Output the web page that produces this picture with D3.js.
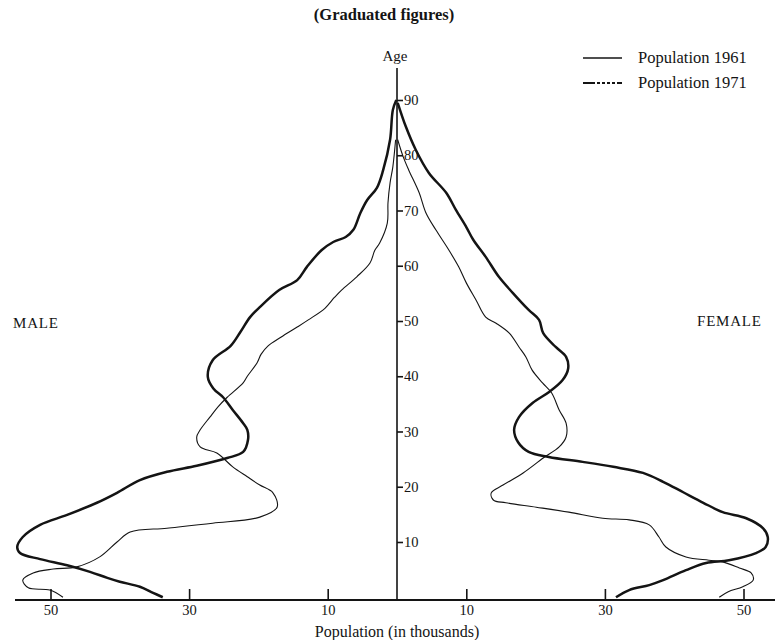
<!DOCTYPE html>
<html>
<head>
<meta charset="utf-8">
<script src="https://cdn.jsdelivr.net/npm/d3@7/dist/d3.min.js"></script>
<style>
  html, body { margin: 0; padding: 0; background: #ffffff; }
  svg { display: block; }
  text { font-family: "Liberation Serif", "DejaVu Serif", serif; fill: #141414; }
</style>
</head>
<body>
<svg id="chart" width="775" height="640"></svg>
<script>
// ---- Data (ages in years, population in thousands) ----
const ageTicks = [10, 20, 30, 40, 50, 60, 70, 80, 90];
const popTicks = [10, 30, 50];
const seriesNames = ["Population 1961", "Population 1971"];

const male1961 = [[0,48.2],[1.3,50.1],[1.7,53.2],[3.1,54.0],[4.4,52.5],[5.1,49.6],[5.5,46.2],[7.3,42.9],[10.0,40.4],[11.8,38.5],[12.5,33.2],[13.4,26.6],[14.5,19.8],[16.3,17.3],[18.9,17.9],[20.3,19.8],[21.8,21.6],[23.6,23.7],[26.1,26.0],[27.2,28.4],[29.0,28.9],[30.3,28.4],[32.6,27.0],[34.5,25.8],[36.2,24.5],[38.8,22.2],[40.0,21.6],[42.4,20.2],[44.0,19.6],[45.5,18.6],[47.1,16.7],[48.9,14.4],[50.2,12.8],[52.3,10.4],[54.3,9.0],[55.6,8.0],[58.0,5.8],[60.5,3.9],[62.8,3.2],[64.1,2.5],[67.7,1.4],[71.4,1.3],[75.0,1.0],[77.9,0.6],[82.8,0.2]];

const female1961 = [[0,46.5],[1.0,47.8],[1.9,49.9],[3.1,51.4],[4.4,51.1],[5.3,49.4],[6.4,47.0],[6.7,45.0],[7.3,41.7],[9.1,38.8],[10.9,37.8],[13.1,36.4],[14.0,33.5],[14.3,29.7],[15.4,24.8],[16.3,20.1],[17.1,15.7],[17.6,13.9],[18.9,13.6],[20.3,15.3],[22.5,18.2],[25.2,21.1],[27.2,23.4],[29.0,24.4],[31.5,24.4],[33.9,23.4],[37.0,22.3],[38.8,21.0],[41.1,19.5],[43.5,18.6],[45.3,17.6],[47.8,16.2],[49.6,14.3],[50.7,12.8],[53.8,11.4],[56.9,10.0],[59.8,8.9],[62.8,7.5],[66.5,5.6],[69.5,4.2],[73.2,3.2],[77.3,1.7],[79.7,0.9],[82.8,0.1]];

const male1971 = [[0,33.8],[0.8,35.2],[1.9,37.1],[2.8,40.0],[3.5,41.8],[4.6,44.3],[5.8,47.6],[6.9,51.5],[8.0,54.4],[9.1,54.8],[10.9,54.0],[13.1,51.5],[14.9,47.6],[17.1,43.3],[18.9,40.4],[21.2,37.1],[22.7,33.2],[23.8,28.9],[25.2,24.5],[26.3,22.2],[28.5,21.5],[30.3,21.6],[31.5,22.2],[33.9,23.7],[36.2,25.1],[37.8,26.5],[39.9,27.3],[42.9,26.6],[45.5,24.0],[48.0,22.6],[50.7,21.2],[52.5,19.8],[55.6,17.0],[57.4,14.4],[59.8,13.0],[62.8,10.9],[64.3,9.2],[65.2,7.4],[66.5,6.3],[69.5,5.3],[71.9,4.3],[74.1,2.9],[77.3,2.0],[82.8,1.0],[88.2,0.6],[90,0.1]];

const female1971 = [[0,31.6],[1.3,33.5],[2.2,36.4],[3.1,38.4],[4.9,41.7],[6.2,44.6],[6.7,47.9],[8.0,51.8],[9.1,53.2],[10.9,53.5],[12.5,52.8],[14.3,50.4],[15.4,47.0],[17.1,44.2],[19.0,41.3],[20.9,38.4],[22.5,35.5],[23.6,31.2],[24.5,26.8],[25.4,21.9],[26.3,19.0],[28.0,17.5],[30.3,16.9],[32.6,17.6],[35.2,19.6],[37.1,21.9],[39.3,23.9],[41.4,24.7],[43.5,24.4],[45.3,22.9],[47.8,21.1],[50.2,20.5],[52.0,19.0],[55.1,16.7],[58.0,14.7],[61.6,12.8],[64.7,11.0],[67.0,10.0],[70.1,8.5],[73.2,7.1],[76.8,4.6],[81.0,2.7],[85.1,1.3],[89.5,0.1]];

// ---- Layout ----
const svg = d3.select("#chart");
const cx = 397;            // centre (age axis)
const pxPerThousand = 6.93;
const baseY = 600;

const y = d3.scaleLinear().domain([-0.5, 90]).range([baseY, 100]);
const xL = d3.scaleLinear().domain([0, 55]).range([cx, cx - 55 * pxPerThousand]);
const xR = d3.scaleLinear().domain([0, 55]).range([cx, cx + 55 * pxPerThousand]);

const ink = "#141414";

// ---- Title & labels ----
svg.append("text").attr("x", 384).attr("y", 20).attr("text-anchor", "middle")
  .attr("font-size", 16.5).attr("font-weight", "bold").text("(Graduated figures)");
svg.append("text").attr("x", 395).attr("y", 61).attr("text-anchor", "middle")
  .attr("font-size", 15).text("Age");
svg.append("text").attr("x", 13).attr("y", 328).attr("font-size", 15)
  .attr("letter-spacing", 0.8).text("MALE");
svg.append("text").attr("x", 697).attr("y", 326).attr("font-size", 15)
  .attr("letter-spacing", 0.8).text("FEMALE");
svg.append("text").attr("x", 397).attr("y", 637).attr("text-anchor", "middle")
  .attr("font-size", 16).text("Population (in thousands)");

// ---- Axes ----
svg.append("line").attr("x1", 15).attr("x2", 775).attr("y1", baseY).attr("y2", baseY)
  .attr("stroke", ink).attr("stroke-width", 2);
svg.append("line").attr("x1", cx).attr("x2", cx).attr("y1", 68).attr("y2", baseY)
  .attr("stroke", ink).attr("stroke-width", 1.6);

function styleAxis(g) {
  g.select(".domain").remove();
  g.selectAll(".tick line").attr("stroke", ink).attr("stroke-width", 1.6);
  g.selectAll(".tick text").attr("font-family", "Liberation Serif, serif")
    .attr("font-size", 14.5).attr("fill", ink);
}

svg.append("g").attr("transform", `translate(0,${baseY})`)
  .call(d3.axisBottom(xL).tickValues(popTicks).tickSize(-11).tickPadding(2).tickFormat(d3.format("d")))
  .call(styleAxis)
  .selectAll(".tick text").attr("dy", "0.9em");
svg.append("g").attr("transform", `translate(0,${baseY})`)
  .call(d3.axisBottom(xR).tickValues(popTicks).tickSize(-11).tickPadding(2).tickFormat(d3.format("d")))
  .call(styleAxis)
  .selectAll(".tick text").attr("dy", "0.9em");

svg.append("g").attr("transform", `translate(${cx},0)`)
  .call(d3.axisRight(y).tickValues(ageTicks).tickSize(6).tickPadding(1).tickFormat(d3.format("d")))
  .call(styleAxis);

// ---- Curves ----
const lineL = d3.line().x(d => xL(d[1])).y(d => y(d[0])).curve(d3.curveCatmullRom.alpha(0.5));
const lineR = d3.line().x(d => xR(d[1])).y(d => y(d[0])).curve(d3.curveCatmullRom.alpha(0.5));

const thin = 1.1, thick = 2.5;
svg.append("path").datum(male1961).attr("d", lineL).attr("fill", "none")
  .attr("stroke", ink).attr("stroke-width", thin);
svg.append("path").datum(female1961).attr("d", lineR).attr("fill", "none")
  .attr("stroke", ink).attr("stroke-width", thin);
svg.append("path").datum(male1971).attr("d", lineL).attr("fill", "none")
  .attr("stroke", ink).attr("stroke-width", thick).attr("stroke-linejoin", "round");
svg.append("path").datum(female1971).attr("d", lineR).attr("fill", "none")
  .attr("stroke", ink).attr("stroke-width", thick).attr("stroke-linejoin", "round");

// ---- Legend ----
const legend = svg.append("g");
legend.append("line").attr("x1", 583).attr("x2", 622).attr("y1", 58).attr("y2", 58)
  .attr("stroke", ink).attr("stroke-width", 1.4);
legend.append("text").attr("x", 638).attr("y", 63).attr("font-size", 16.5).text(seriesNames[0]);
legend.append("line").attr("x1", 583).attr("x2", 623).attr("y1", 83).attr("y2", 83)
  .attr("stroke", ink).attr("stroke-width", 2)
  .attr("stroke-dasharray", "12,2,3,2,3,2,3,2,3,2,5");
legend.append("text").attr("x", 638).attr("y", 88).attr("font-size", 16.5).text(seriesNames[1]);
</script>
</body>
</html>
